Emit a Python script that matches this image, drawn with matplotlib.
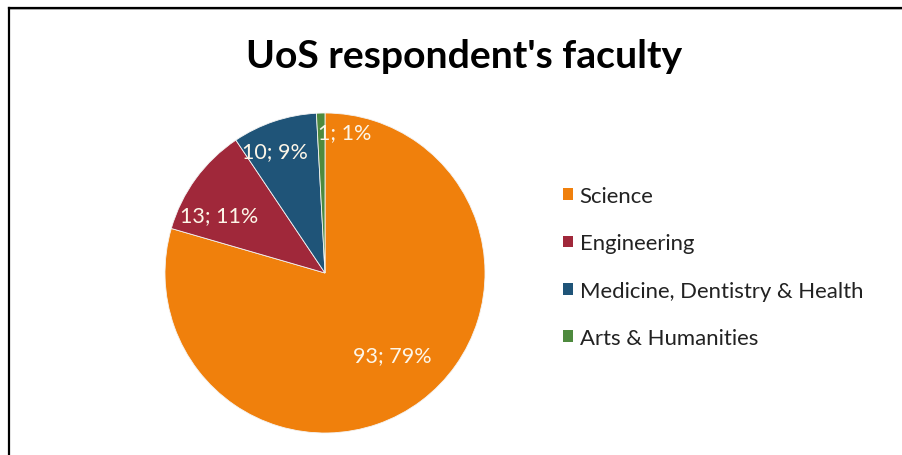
import matplotlib
matplotlib.use("Agg")
import matplotlib.pyplot as plt
from matplotlib.lines import Line2D
from matplotlib.patches import Patch

categories = ["Science", "Engineering", "Medicine, Dentistry & Health", "Arts & Humanities"]
counts = [93, 13, 10, 1]
percents = [79, 11, 9, 1]
colors = ["#F0800C", "#A0283A", "#1F5478", "#4E8A3E"]
# label positions in units of pie radius
label_pos = [(0.42, -0.51), (-0.66, 0.36), (-0.31, 0.76), (0.125, 0.88)]

plt.rcParams['font.family'] = ['Lato', 'DejaVu Sans']

W, H = 903, 456
fig = plt.figure(figsize=(W / 100, H / 100), dpi=100)
fig.patch.set_facecolor("white")

cx, cy, r = 325, 456 - 274, 160
ax = fig.add_axes([(cx - r) / W, (cy - r) / H, 2 * r / W, 2 * r / H])
wedges, _ = ax.pie(counts, colors=colors, startangle=90, counterclock=False,
                   wedgeprops=dict(edgecolor="#F4F4F4", linewidth=0.6))
ax.set_xlim(-1, 1)
ax.set_ylim(-1, 1)
ax.set_aspect("equal")
ax.axis("off")

for c, p, (x, y) in zip(counts, percents, label_pos):
    ax.text(x, y, f"{c}; {p}%", ha="center", va="center", fontsize=15.5,
            color="#FDF6E8")

fig.text(464 / W, 1 - 57 / H, "UoS respondent's faculty", ha="center", va="center",
         fontsize=28.2, fontweight="bold", color="black")

handles = [Patch(facecolor=col, edgecolor="none") for col in colors]
leg = fig.legend(handles, categories, loc="center left",
                 bbox_to_anchor=(552 / W, 1 - 268 / H), frameon=False,
                 fontsize=15.9, handlelength=0.45, handleheight=0.45,
                 handletextpad=0.3, labelspacing=1.24, borderpad=0)
for t in leg.get_texts():
    t.set_color("#222222")

# chart border (top and left, rest cropped)
fig.add_artist(Line2D([8.5 / W, 1], [1 - 9.5 / H, 1 - 9.5 / H], color="#B0B0B0", lw=1.2, transform=fig.transFigure))
fig.add_artist(Line2D([8.5 / W, 1], [1 - 8.5 / H, 1 - 8.5 / H], color="black", lw=1.6, transform=fig.transFigure))
fig.add_artist(Line2D([8.5 / W, 8.5 / W], [0, 1 - 8.5 / H], color="black", lw=1.6, transform=fig.transFigure))

fig.savefig("out.png", dpi=100)
